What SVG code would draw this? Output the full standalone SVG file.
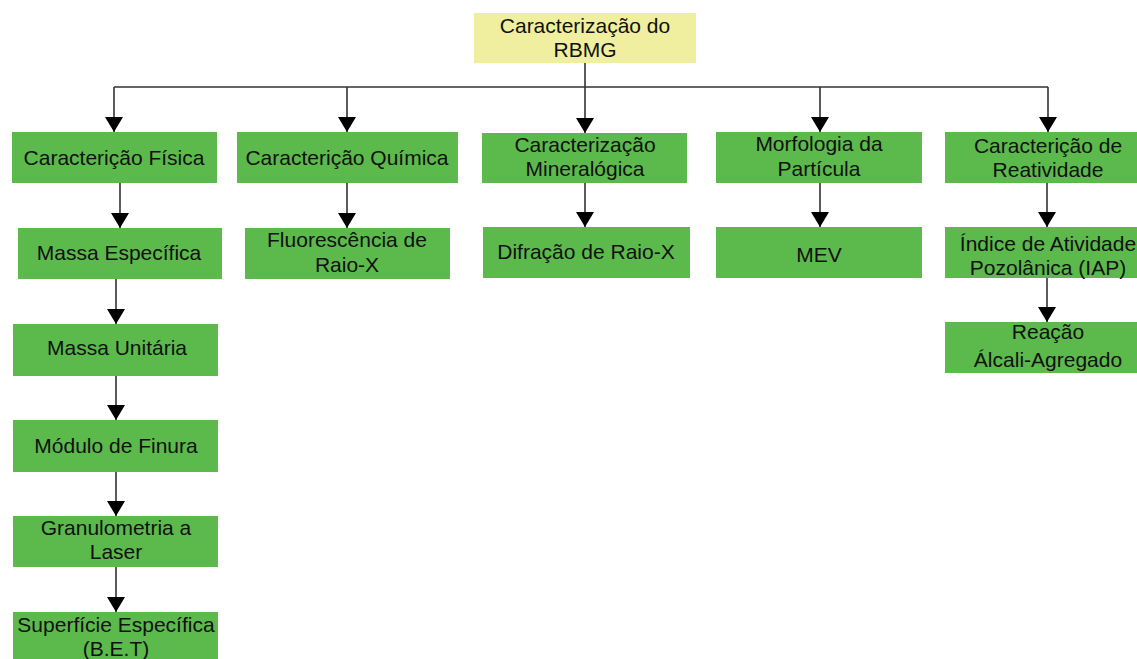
<svg xmlns="http://www.w3.org/2000/svg" width="1137" height="659" viewBox="0 0 1137 659">
<defs>
<style>
.box{fill:#5cb94c;}
.root{fill:#efef9f;}
text{font-family:"Liberation Sans",Arial,sans-serif;font-size:21px;fill:#111;text-anchor:middle;}
.ln{stroke:#333;stroke-width:1.6;fill:none;}
.ar{stroke:#333;stroke-width:1.6;fill:none;marker-end:url(#arr);}
</style>
<marker id="arr" markerUnits="userSpaceOnUse" viewBox="0 0 15 18" refX="15" refY="9" markerWidth="15" markerHeight="18" orient="auto">
<path d="M0,0 L15,9 L0,18 Z" fill="#000"/>
</marker>
</defs>
<rect width="1137" height="659" fill="#fff"/>

<g id="connectors">
<path class="ln" d="M585,63 V87 M114,87 H1048"/>
<path class="ar" d="M114,87 V132"/>
<path class="ar" d="M347,87 V132"/>
<path class="ar" d="M585,87 V133"/>
<path class="ar" d="M820,87 V132"/>
<path class="ar" d="M1048,87 V132"/>
<path class="ar" d="M120,183 V228"/>
<path class="ar" d="M116,279 V324"/>
<path class="ar" d="M116,376 V420"/>
<path class="ar" d="M116,472 V516"/>
<path class="ar" d="M116,567 V612"/>
<path class="ar" d="M347,183 V228"/>
<path class="ar" d="M585,183 V227"/>
<path class="ar" d="M820,183 V227"/>
<path class="ar" d="M1047,183 V227"/>
<path class="ar" d="M1047,278 V322"/>
</g>

<g id="root">
<rect class="root" x="474" y="13" width="222" height="50"/>
<text x="585" y="33">Caracterização do</text>
<text x="585" y="57">RBMG</text>
</g>

<g id="fisica">
<rect class="box" x="12" y="132" width="205" height="51"/>
<text x="114" y="165">Caracterição Física</text>
</g>
<g id="massa-especifica">
<rect class="box" x="18" y="228" width="204" height="51"/>
<text x="119" y="260">Massa Específica</text>
</g>
<g id="massa-unitaria">
<rect class="box" x="13" y="324" width="205" height="52"/>
<text x="117" y="355">Massa Unitária</text>
</g>
<g id="modulo-finura">
<rect class="box" x="13" y="420" width="205" height="52"/>
<text x="116" y="453">Módulo de Finura</text>
</g>
<g id="granulometria">
<rect class="box" x="13" y="516" width="205" height="51"/>
<text x="116" y="535">Granulometria a</text>
<text x="116" y="559">Laser</text>
</g>
<g id="superficie">
<rect class="box" x="13" y="612" width="205" height="52"/>
<text x="116" y="632">Superfície Específica</text>
<text x="116" y="656">(B.E.T)</text>
</g>

<g id="quimica">
<rect class="box" x="237" y="132" width="221" height="51"/>
<text x="347" y="165">Caracterição Química</text>
</g>
<g id="fluorescencia">
<rect class="box" x="245" y="228" width="205" height="51"/>
<text x="347" y="247">Fluorescência de</text>
<text x="347" y="272">Raio-X</text>
</g>

<g id="mineralogica">
<rect class="box" x="482" y="133" width="205" height="50"/>
<text x="585" y="152">Caracterização</text>
<text x="585" y="176">Mineralógica</text>
</g>
<g id="difracao">
<rect class="box" x="483" y="227" width="207" height="51"/>
<text x="586" y="259">Difração de Raio-X</text>
</g>

<g id="morfologia">
<rect class="box" x="716" y="132" width="206" height="51"/>
<text x="819" y="151">Morfologia da</text>
<text x="819" y="176">Partícula</text>
</g>
<g id="mev">
<rect class="box" x="716" y="227" width="206" height="51"/>
<text x="819" y="262">MEV</text>
</g>

<g id="reatividade">
<rect class="box" x="945" y="132" width="206" height="51"/>
<text x="1048" y="153">Caracterição de</text>
<text x="1048" y="177">Reatividade</text>
</g>
<g id="iap">
<rect class="box" x="945" y="227" width="206" height="51"/>
<text x="1048" y="251">Índice de Atividade</text>
<text x="1048" y="275">Pozolânica (IAP)</text>
</g>
<g id="reacao">
<rect class="box" x="945" y="322" width="206" height="51"/>
<text x="1048" y="339">Reação</text>
<text x="1048" y="367">Álcali-Agregado</text>
</g>
</svg>
